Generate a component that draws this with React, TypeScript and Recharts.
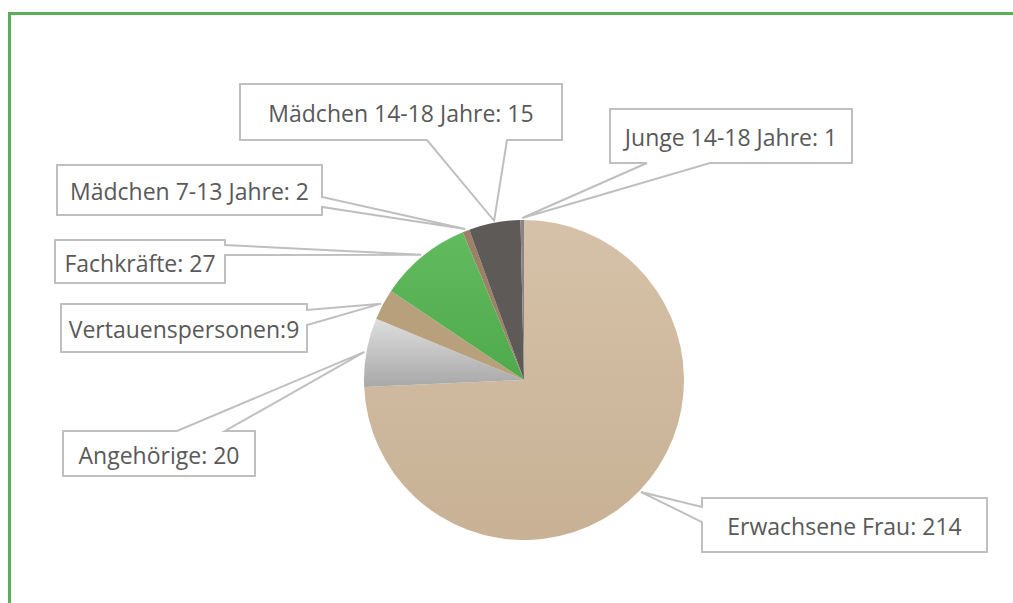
import { PieChart, Pie, Cell } from 'recharts'

const categories = [
  'Erwachsene Frau',
  'Angehörige',
  'Vertauenspersonen',
  'Fachkräfte',
  'Mädchen 7-13 Jahre',
  'Mädchen 14-18 Jahre',
  'Junge 14-18 Jahre',
]
const counts = [214, 20, 9, 27, 2, 15, 1]
const separators = [': ', ': ', ':', ': ', ': ', ': ', ': ']

const fills = [
  'url(#gFrau)',
  'url(#gAngeh)',
  '#b8a07d',
  'url(#gFach)',
  '#9c8068',
  '#5e5a58',
  '#8a8580',
]

// callout boxes (x, y, w, h), the side the pointer leaves from and its two base points
const callouts = [
  { x: 702, y: 498, w: 285, h: 54, side: 'left', p1: 507, p2: 522 },
  { x: 63, y: 431, w: 192, h: 45, side: 'top', p1: 177, p2: 225 },
  { x: 61, y: 304, w: 246, h: 48, side: 'right', p1: 310, p2: 325 },
  { x: 55, y: 240, w: 170, h: 43, side: 'right', p1: 245, p2: 255 },
  { x: 57, y: 165, w: 265, h: 50, side: 'right', p1: 197, p2: 207 },
  { x: 240, y: 84, w: 322, h: 56, side: 'bottom', p1: 427, p2: 507 },
  { x: 610, y: 109, w: 242, h: 54, side: 'bottom', p1: 647, p2: 710 },
]

const data = categories.map((name, i) => ({ name, value: counts[i] }))

const RAD = Math.PI / 180

function calloutPath(c: any, tx: number, ty: number) {
  const { x, y, w, h, side, p1, p2 } = c
  const r = x + w
  const b = y + h
  switch (side) {
    case 'top':
      return `M${x},${y}L${p1},${y}L${tx},${ty}L${p2},${y}L${r},${y}L${r},${b}L${x},${b}Z`
    case 'right':
      return `M${x},${y}L${r},${y}L${r},${p1}L${tx},${ty}L${r},${p2}L${r},${b}L${x},${b}Z`
    case 'bottom':
      return `M${x},${y}L${r},${y}L${r},${b}L${p2},${b}L${tx},${ty}L${p1},${b}L${x},${b}Z`
    default:
      return `M${x},${y}L${r},${y}L${r},${b}L${x},${b}L${x},${p2}L${tx},${ty}L${x},${p1}Z`
  }
}

function renderCallout(props: any) {
  const { cx, cy, midAngle, outerRadius, index } = props
  const c = callouts[index]
  const tx = cx + (outerRadius + 2) * Math.cos(-midAngle * RAD)
  const ty = cy + (outerRadius + 2) * Math.sin(-midAngle * RAD)
  return (
    <g key={`callout-${index}`}>
      <path d={calloutPath(c, tx, ty)} fill="#fff" stroke="#bfbfbf" strokeWidth={2} />
      <text
        x={c.x + c.w / 2}
        y={c.y + c.h / 2 + 1}
        textAnchor="middle"
        dominantBaseline="central"
        fill="#595959"
        fontSize={23}
        fontFamily="'Open Sans', sans-serif"
      >
        {categories[index] + separators[index] + counts[index]}
      </text>
    </g>
  )
}

export default function App() {
  return (
    <div style={{ position: 'absolute', left: 0, top: 0, width: 1013, height: 603, background: '#fff' }}>
      <style>{`.recharts-pie-sectors { filter: drop-shadow(0 0 2px rgba(0,0,0,0.25)); }`}</style>
      <div
        style={{
          position: 'absolute',
          left: 8,
          top: 12,
          width: 1010,
          height: 600,
          borderTop: '3px solid #5aad5a',
          borderLeft: '3px solid #5aad5a',
        }}
      />
      <PieChart
        width={1013}
        height={603}
        margin={{ top: 0, right: 0, bottom: 0, left: 0 }}
        style={{ position: 'absolute', left: 0, top: 0 }}
      >
        <defs>
          <linearGradient id="gFrau" x1="0" y1="0" x2="0" y2="1">
            <stop offset="0%" stopColor="#d6c2a9" />
            <stop offset="100%" stopColor="#c8b194" />
          </linearGradient>
          <linearGradient id="gAngeh" x1="0" y1="0" x2="0" y2="1">
            <stop offset="0%" stopColor="#dedede" />
            <stop offset="100%" stopColor="#a8a8a8" />
          </linearGradient>
          <linearGradient id="gFach" x1="0" y1="0" x2="0" y2="1">
            <stop offset="0%" stopColor="#62bb5e" />
            <stop offset="100%" stopColor="#4faa4c" />
          </linearGradient>
        </defs>
        <Pie
          data={data}
          dataKey="value"
          nameKey="name"
          cx={524}
          cy={380}
          outerRadius={160}
          startAngle={90}
          endAngle={-270}
          stroke="none"
          label={renderCallout}
          labelLine={false}
          isAnimationActive={false}
        >
          {data.map((d, i) => (
            <Cell key={d.name} fill={fills[i]} />
          ))}
        </Pie>
      </PieChart>
    </div>
  )
}
